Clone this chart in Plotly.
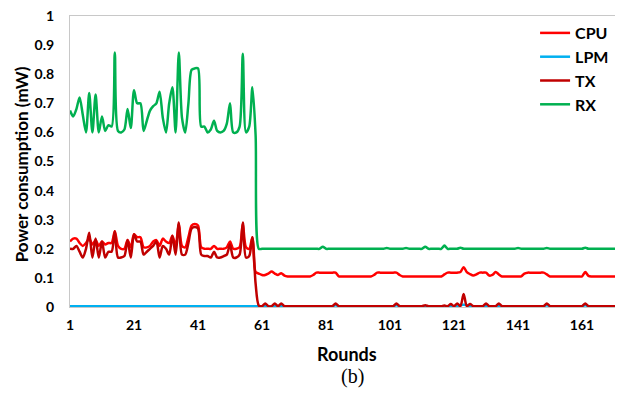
import plotly.graph_objects as go

rounds = list(range(1, 176))

# RX (green) values, rounds 1..60
rx_head = [0.675, 0.655, 0.68, 0.72, 0.66, 0.60, 0.735, 0.60, 0.73, 0.60,
           0.655, 0.605, 0.625, 0.62, 0.875, 0.605, 0.60, 0.61, 0.68, 0.615,
           0.745, 0.70, 0.70, 0.605, 0.64, 0.675, 0.69, 0.70, 0.74, 0.65,
           0.60, 0.70, 0.755, 0.60, 0.875, 0.65, 0.60, 0.70, 0.815, 0.82,
           0.82, 0.62, 0.62, 0.60, 0.61, 0.64, 0.605, 0.60, 0.605, 0.63,
           0.70, 0.60, 0.60, 0.62, 0.87, 0.60, 0.62, 0.755, 0.59, 0.20]
# CPU (red) values, rounds 1..60
cpu_head = [0.225, 0.235, 0.235, 0.22, 0.21, 0.22, 0.235, 0.215, 0.23, 0.21,
            0.225, 0.215, 0.22, 0.22, 0.26, 0.21, 0.20, 0.20, 0.23, 0.205,
            0.25, 0.24, 0.24, 0.205, 0.205, 0.21, 0.225, 0.23, 0.21, 0.235,
            0.225, 0.22, 0.245, 0.21, 0.285, 0.21, 0.205, 0.24, 0.28, 0.285,
            0.28, 0.205, 0.20, 0.20, 0.20, 0.21, 0.20, 0.20, 0.20, 0.205,
            0.225, 0.20, 0.20, 0.205, 0.285, 0.205, 0.20, 0.24, 0.12, 0.115]
# TX (dark red) values, rounds 1..60
tx_head = [0.20, 0.20, 0.21, 0.19, 0.17, 0.20, 0.255, 0.17, 0.235, 0.17,
           0.225, 0.17, 0.19, 0.19, 0.26, 0.17, 0.17, 0.175, 0.23, 0.17,
           0.25, 0.225, 0.225, 0.18, 0.19, 0.20, 0.21, 0.225, 0.17, 0.21,
           0.20, 0.18, 0.245, 0.18, 0.29, 0.18, 0.18, 0.22, 0.27, 0.275,
           0.27, 0.18, 0.175, 0.175, 0.17, 0.19, 0.17, 0.17, 0.175, 0.18,
           0.215, 0.17, 0.17, 0.18, 0.29, 0.17, 0.175, 0.24, 0.08, 0.005]

# Rounds 61..175
cpu_tail = ([0.11, 0.11, 0.115, 0.122, 0.115, 0.11, 0.116, 0.108] +      # 61-68
            [0.105] * 8 + [0.11] + [0.118] * 7 +                          # 69-84
            [0.105] * 11 + [0.11] + [0.118] * 7 + [0.11] +                # 85-104
            [0.105] * 13 +                                                # 105-117
            [0.112, 0.118, 0.118, 0.118, 0.118, 0.12, 0.137, 0.12, 0.113,
             0.108, 0.112, 0.118, 0.118, 0.118, 0.108, 0.11, 0.12, 0.112] +  # 118-135
            [0.105] * 7 + [0.115] + [0.118] * 6 + [0.112] +               # 136-150
            [0.105] * 11 + [0.12, 0.107] + [0.105] * 12)                  # 151-175

rx_tail = [0.20] * 115
for r, v in {80: 0.207, 100: 0.203, 106: 0.203, 112: 0.207, 118: 0.211,
             123: 0.204, 141: 0.203, 150: 0.203, 162: 0.204}.items():
    rx_tail[r - 61] = v

tx_tail = [0.003] * 115
for r, v in {62: 0.012, 65: 0.012, 67: 0.012, 84: 0.012, 103: 0.012,
             112: 0.006, 118: 0.005, 120: 0.01, 122: 0.012, 124: 0.045,
             126: 0.01, 131: 0.012, 135: 0.012, 150: 0.012, 162: 0.012}.items():
    tx_tail[r - 61] = v

lpm = [0.003] * 175
for r, v in {84: 0.006, 103: 0.006, 123: 0.007, 124: 0.008, 125: 0.007,
             150: 0.006, 162: 0.006}.items():
    lpm[r - 1] = v

cpu = cpu_head + cpu_tail
tx = tx_head + tx_tail
rx = rx_head + rx_tail

x_ticks = [1, 21, 41, 61, 81, 101, 121, 141, 161]
y_ticks = [0, 0.1, 0.2, 0.3, 0.4, 0.5, 0.6, 0.7, 0.8, 0.9, 1]

series = [("CPU", cpu, "#FF0000"), ("LPM", lpm, "#00B0F0"),
          ("TX", tx, "#C00000"), ("RX", rx, "#00B050")]

fig = go.Figure()
for name, vals, col in series:
    fig.add_trace(go.Scatter(x=rounds, y=vals, name=name, mode="lines",
                             line=dict(color=col, width=2.5, shape="spline",
                                       smoothing=0.8)))

FONT = "Lato"
# page body has an 8px default margin, so the figure is 8px smaller
fig.update_layout(
    width=615, height=388,
    margin=dict(l=62, r=0, t=8, b=89, autoexpand=False),
    paper_bgcolor="white", plot_bgcolor="white",
    font=dict(family=FONT, color="#000000"),
    legend=dict(x=0.841, y=1.0, xanchor="left", yanchor="top",
                bgcolor="rgba(0,0,0,0)",
                font=dict(family=FONT, size=16, weight="bold", color="#000"),
                itemwidth=30, tracegroupgap=0),
    xaxis=dict(range=[1, 173.8], tickvals=x_ticks, showgrid=False,
               zeroline=False, showline=True, mirror=True,
               linecolor="#C8C8C8", linewidth=1, ticks="",
               ticklabelstandoff=5, automargin=False,
               ticklabeloverflow="allow",
               tickfont=dict(family=FONT, size=14, weight="bold")),
    yaxis=dict(range=[0, 1], tickvals=y_ticks, showgrid=False,
               zeroline=False, showline=True, mirror=False,
               linecolor="#C8C8C8", linewidth=1, ticks="",
               ticklabelstandoff=12, automargin=False,
               ticklabeloverflow="allow",
               tickfont=dict(family=FONT, size=14, weight="bold")),
    annotations=[
        dict(text="Rounds", xref="paper", yref="paper", x=0.5, y=-0.162,
             xanchor="center", yanchor="middle", showarrow=False,
             font=dict(family=FONT, size=18, weight="bold")),
        dict(text="Power consumption (mW)", xref="paper", yref="paper",
             x=-0.087, y=0.49, textangle=-90, xanchor="center",
             yanchor="middle", showarrow=False,
             font=dict(family=FONT, size=17, weight="bold")),
        dict(text="(b)", xref="paper", yref="paper", x=0.51, y=-0.24,
             xanchor="center", yanchor="middle", showarrow=False,
             font=dict(family="Liberation Serif", size=20)),
    ],
)
fig.write_html("out.html")
